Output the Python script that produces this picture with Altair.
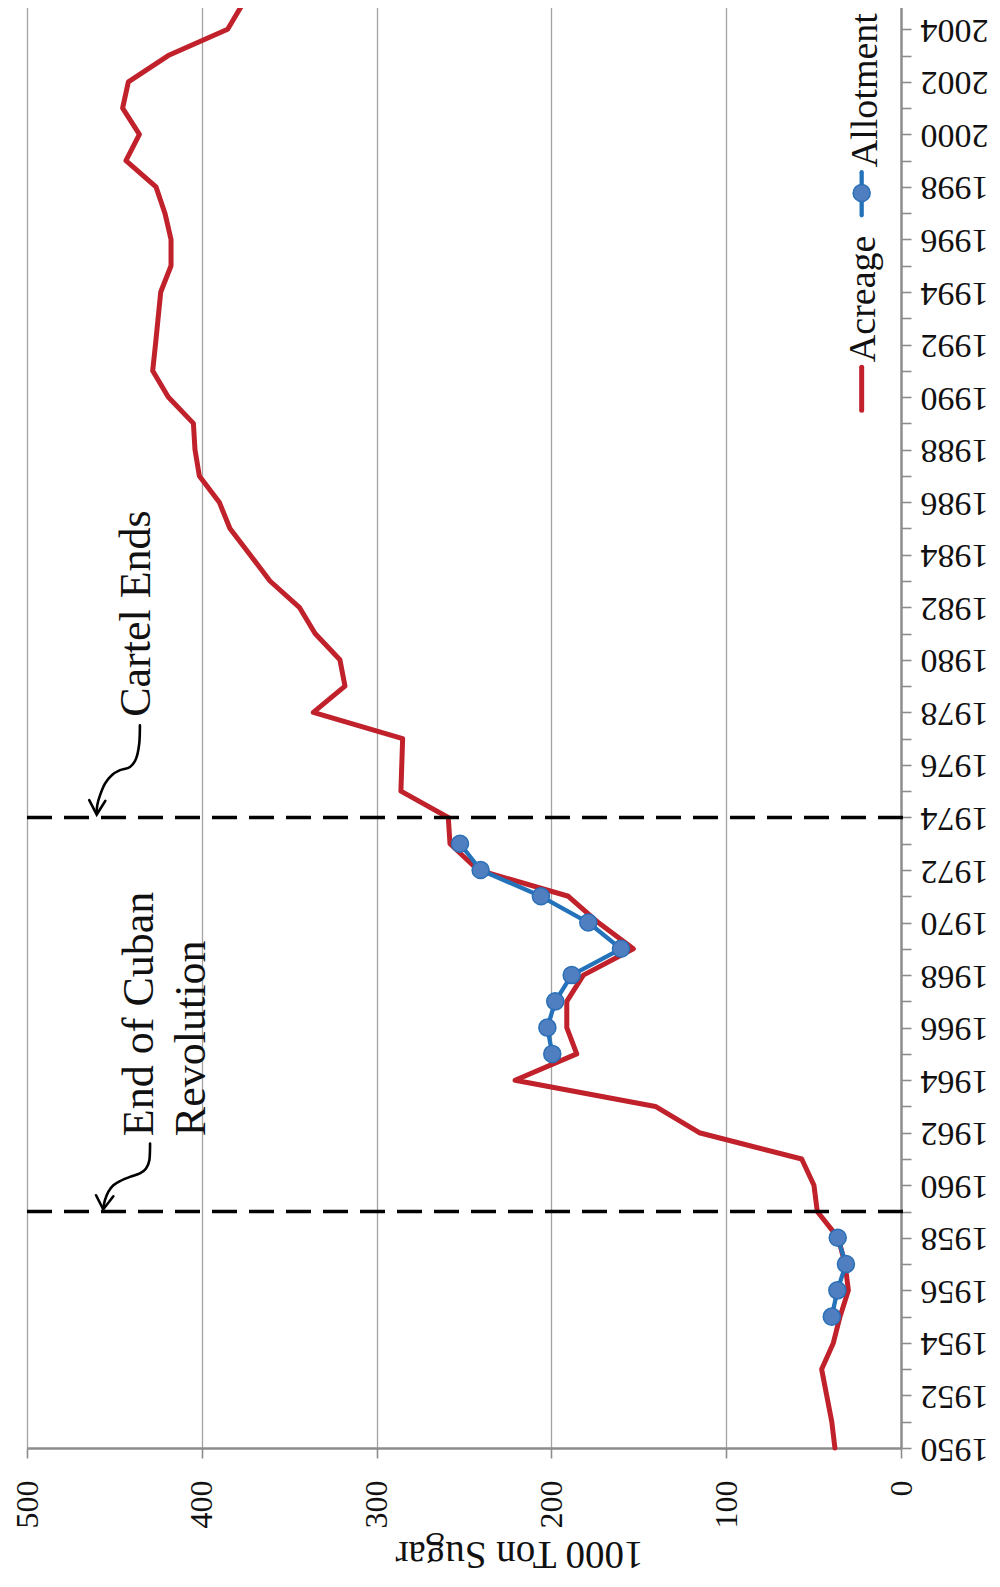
import altair as alt
import pandas as pd

# ---------------- data ----------------
years = list(range(1950, 2006))
acreage = [37.8, 39.6, 42.5, 45.4, 38.7, 34.9, 30.1, 32.0, 35.9, 47.9,
           49.8, 56.8, 115.4, 140.5, 220.8, 185.5, 191.2, 191.2, 181.7, 153.1,
           173.2, 190.3, 242.0, 258.0, 259.0, 286.1, 285.6, 285.1, 336.2, 318.1,
           321.0, 335.2, 344.2, 361.0, 372.4, 383.9, 390.0, 401.4, 403.9, 404.8,
           419.2, 428.1, 426.5, 425.0, 423.5, 417.6, 417.6, 421.1, 426.2, 443.4,
           435.7, 445.3, 442.0, 419.2, 385.2, 376.3]

allot_years = [1955, 1956, 1957, 1958,
               1965, 1966, 1967, 1968, 1969, 1970, 1971, 1972, 1973]
allotment = [39.6, 36.4, 31.5, 36.2,
             199.5, 202.3, 197.8, 188.4, 160.2, 178.9, 206.0, 240.5, 252.3]
allot_segment = [1, 1, 1, 1, 2, 2, 2, 2, 2, 2, 2, 2, 2]

value_ticks = [0, 100, 200, 300, 400, 500]
event_years = [1959, 1974]

# annotation texts (anchor in data space: value, year)
note_text = ["Cartel Ends", "End of Cuban", "Revolution"]
note_value = [429.6, 427.7, 398.2]
note_year = [1977.83, 1961.87, 1961.87]

# curved arrows (value, year) along the path
arrow_id = ["c"] * 10 + ["r"] * 10
arrow_value = [435.4, 435.8, 437.6, 441.1, 446.8, 451.5, 455.4, 458.2, 459.8, 460.1,
               429.6, 430.0, 431.9, 435.4, 441.1, 446.8, 450.6, 453.5, 455.4, 456.4]
arrow_year = [1977.51, 1976.81, 1976.24, 1975.92, 1975.80, 1975.61, 1975.29, 1974.85, 1974.47, 1974.15,
              1961.59, 1960.95, 1960.64, 1960.45, 1960.32, 1960.16, 1960.00, 1959.75, 1959.43, 1959.11]
head_id = ["c", "c", "c", "r", "r", "r"]
head_value = [464.4, 460.1, 455.2, 460.5, 456.4, 450.6]
head_year = [1974.66, 1974.11, 1974.63, 1959.62, 1959.08, 1959.58]

# legend (drawn inside the plot, rotated like the rest)
legend_label = ["Acreage", "Allotment"]
legend_text_value = [14.9, 13.9]
legend_text_year = [1991.33, 1998.75]
legend_line_value = 22.5
legend_red_years = [1989.50, 1991.14]
legend_blue_years = [1996.92, 1998.56]
legend_marker_year = 1997.77

RED = "#C0212B"
BLUE = "#2372BA"
MARK_FILL = "#4F7FC0"
MARK_STROKE = "#2B6FB7"
FONT = "Liberation Serif"

# ---------------- tables ----------------
acre_df = pd.DataFrame({"year": years, "value": acreage})
allot_df = pd.DataFrame({"year": allot_years, "value": allotment, "seg": allot_segment})
event_df = pd.DataFrame({"year": event_years})
note_df = pd.DataFrame({"text": note_text, "value": note_value, "year": note_year})
arrow_df = pd.DataFrame({"id": arrow_id, "value": arrow_value, "year": arrow_year,
                         "i": list(range(len(arrow_id)))})
head_df = pd.DataFrame({"id": head_id, "value": head_value, "year": head_year,
                        "i": list(range(len(head_id)))})
leg_text_df = pd.DataFrame({"text": legend_label, "value": legend_text_value,
                            "year": legend_text_year})
leg_red_df = pd.DataFrame({"value": [legend_line_value] * 2, "year": legend_red_years})
leg_blue_df = pd.DataFrame({"value": [legend_line_value] * 2, "year": legend_blue_years})
leg_mark_df = pd.DataFrame({"value": [legend_line_value], "year": [legend_marker_year]})

xs = alt.Scale(domain=[0, 500], reverse=True, nice=False, zero=False)
ys = alt.Scale(domain=[1950, 2005], nice=False, zero=False)

x_axis = alt.Axis(
    values=value_ticks, title="1000 Ton Sugar",
    labelAngle=270, labelAlign="right", labelBaseline="middle",
    labelFont=FONT, labelFontSize=32, labelColor="#111111", labelPadding=22,
    labelFlush=False, labelOverlap=False,
    tickSize=10, tickColor="#8c8c8c", tickWidth=1.6,
    domainColor="#8c8c8c", domainWidth=2.4,
    grid=True, gridColor="#a3a3a3", gridWidth=1.3,
    titleFont=FONT, titleFontSize=39, titleFontWeight="normal", titleColor="#111111",
    titleAngle=180, titleX=492, titleY=105, titleAlign="center", titleBaseline="middle",
)
y_axis = alt.Axis(
    orient="right", values=years, format="d",
    labelExpr="datum.value % 2 == 0 ? datum.label : ''",
    labelAngle=180, labelAlign="right", labelBaseline="middle",
    labelFont=FONT, labelFontSize=34, labelColor="#111111", labelPadding=9,
    labelFlush=False, labelOverlap=False,
    tickSize=10, tickColor="#8c8c8c", tickWidth=1.6,
    domainColor="#8c8c8c", domainWidth=2.4,
    grid=False, title="",
)


def X():
    return alt.X("value:Q", scale=xs, axis=x_axis)


def Y():
    return alt.Y("year:Q", scale=ys, axis=y_axis)


red_line = alt.Chart(acre_df).mark_line(
    color=RED, strokeWidth=5, strokeCap="round", strokeJoin="round"
).encode(x=X(), y=Y(), order="year:Q")

blue_line = alt.Chart(allot_df).mark_line(
    color=BLUE, strokeWidth=4.3, strokeCap="round", strokeJoin="round"
).encode(x=X(), y=Y(), detail="seg:N", order="year:Q")

blue_pts = alt.Chart(allot_df).mark_circle(
    size=290, color=MARK_FILL, stroke=MARK_STROKE, strokeWidth=1.5, opacity=1
).encode(x=X(), y=Y())

events = alt.Chart(event_df).mark_rule(
    color="#000000", strokeWidth=3.4, strokeDash=[25, 12]
).encode(y=Y(), x=alt.value(0), x2=alt.value(885))

notes = alt.Chart(note_df).mark_text(
    font=FONT, fontSize=44, angle=270, align="left", baseline="alphabetic", color="#111111"
).encode(x=X(), y=Y(), text="text:N")

arrows = alt.Chart(arrow_df).mark_line(
    color="#000000", strokeWidth=2.6, interpolate="cardinal", strokeCap="round"
).encode(x=X(), y=Y(), detail="id:N", order="i:Q")

heads = alt.Chart(head_df).mark_line(
    color="#000000", strokeWidth=2.6, strokeCap="round", strokeJoin="miter"
).encode(x=X(), y=Y(), detail="id:N", order="i:Q")

leg_text = alt.Chart(leg_text_df).mark_text(
    font=FONT, fontSize=38, angle=270, align="left", baseline="alphabetic", color="#111111"
).encode(x=X(), y=Y(), text="text:N")

leg_red = alt.Chart(leg_red_df).mark_line(
    color=RED, strokeWidth=5, strokeCap="round"
).encode(x=X(), y=Y(), order="year:Q")

leg_blue = alt.Chart(leg_blue_df).mark_line(
    color=BLUE, strokeWidth=4.3, strokeCap="round"
).encode(x=X(), y=Y(), order="year:Q")

leg_mark = alt.Chart(leg_mark_df).mark_circle(
    size=290, color=MARK_FILL, stroke=MARK_STROKE, strokeWidth=1.5, opacity=1
).encode(x=X(), y=Y())

chart = alt.layer(
    red_line, blue_line, blue_pts, events, arrows, heads, notes,
    leg_red, leg_blue, leg_mark, leg_text
).properties(
    width=874, height=1445,
    autosize=alt.AutoSizeParams(type="none"),
    padding={"left": 19, "top": -5, "right": 90, "bottom": 127},
    background="white",
).configure_view(stroke=None).configure_axis(labelFont=FONT, titleFont=FONT)

chart.save("out.html", embed_options={"renderer": "svg", "actions": False})
